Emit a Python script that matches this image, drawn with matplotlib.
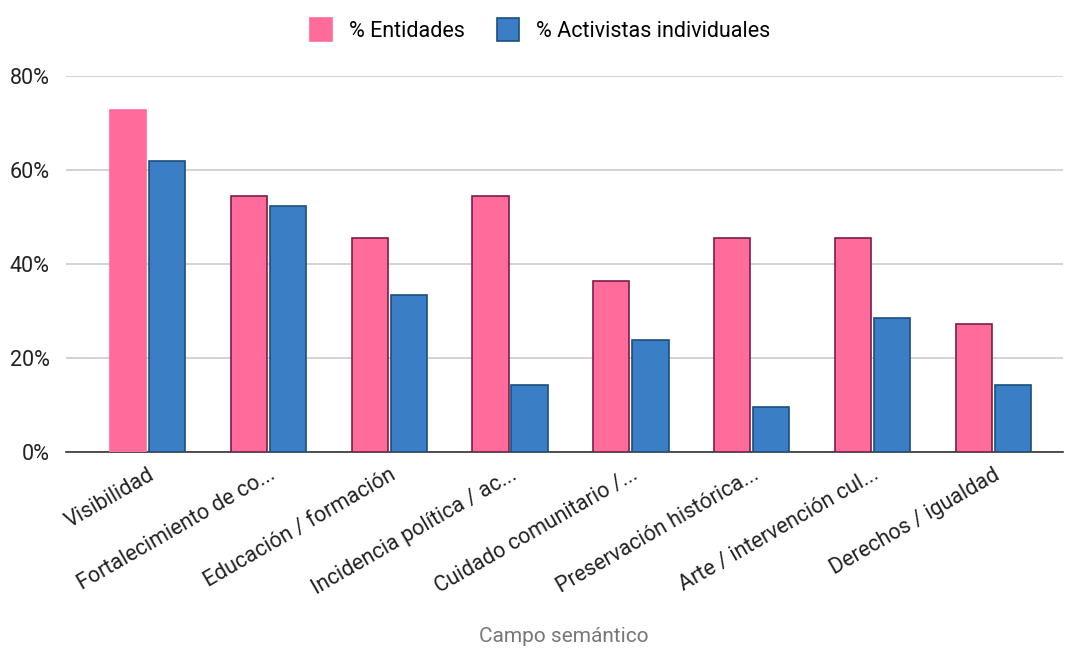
import matplotlib.pyplot as plt
import numpy as np

plt.rcParams['font.family'] = ['Roboto', 'DejaVu Sans']

categorias = ['Visibilidad', 'Fortalecimiento de co...', 'Educación / formación',
              'Incidencia política / ac...', 'Cuidado comunitario /...',
              'Preservación histórica...', 'Arte / intervención cul...',
              'Derechos / igualdad']
entidades = [72.7, 54.5, 45.5, 54.5, 36.4, 45.5, 45.5, 27.3]
activistas = [61.9, 52.4, 33.3, 14.3, 23.8, 9.5, 28.6, 14.3]

rosa = '#ff6b9b'
azul = '#3a7fc6'

fig = plt.figure(figsize=(10.68, 6.51), dpi=100)
ax = fig.add_axes([0.062, 0.306, 0.933, 0.577])

x = np.arange(len(categorias))
w = 0.30
b1 = ax.bar(x - w/2 - 0.012, entidades, w, color=rosa, edgecolor='#7a1e48', linewidth=1.2,
            label='% Entidades', zorder=3)
b1[0].set_edgecolor(rosa)
ax.bar(x + w/2 + 0.012, activistas, w, color=azul, edgecolor='#1d4e80', linewidth=1.2,
       label='% Activistas individuales', zorder=3)

ax.set_ylim(0, 80)
ax.set_xlim(-0.674, 7.575)
ax.set_yticks([0, 20, 40, 60, 80])
ax.set_yticklabels(['0%', '20%', '40%', '60%', '80%'], fontsize=15.5, color='#222222')
ax.yaxis.grid(True, color='#cccccc', linewidth=1.2, zorder=0)
ax.tick_params(axis='y', length=0, pad=12)
ax.tick_params(axis='x', length=0, pad=9)
for s in ['top', 'right', 'left']:
    ax.spines[s].set_visible(False)
ax.spines['bottom'].set_color('#333333')
ax.spines['bottom'].set_linewidth(1.2)

ax.set_xticks(x)
ax.set_xticklabels(categorias, rotation=30, ha='right', rotation_mode='anchor',
                   fontsize=15.5, color='#222222')
fig.text(0.528, 1 - 637/651, 'Campo semántico', fontsize=15, color='#777777',
         ha='center', va='center')

fig.legend(loc='center', bbox_to_anchor=(0.506, 1 - 30/651), ncol=2, frameon=False,
           fontsize=15.5, handlelength=1.0, handleheight=1.3, columnspacing=1.5,
           handletextpad=0.8)

plt.savefig('out.png')
